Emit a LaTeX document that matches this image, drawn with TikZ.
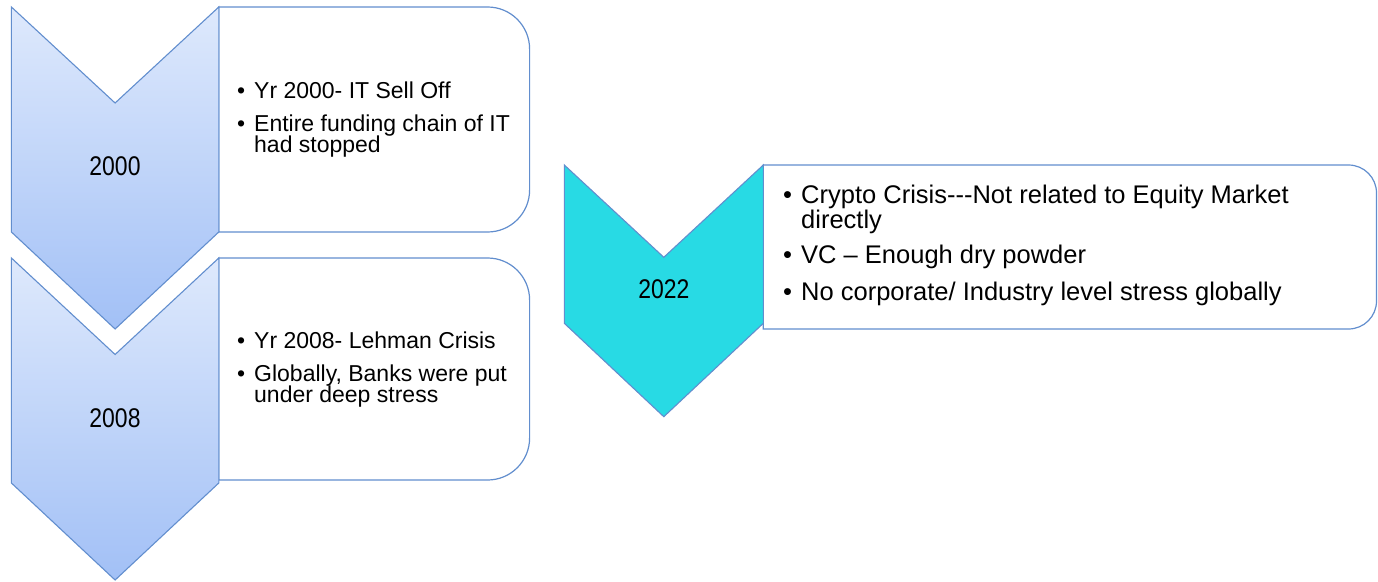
\documentclass[tikz,border=0pt]{standalone}
\usepackage{fontspec}
\setmainfont{Liberation Sans}
\newfontfamily\yearfont[FakeStretch=0.85]{Liberation Sans}
\definecolor{chevtop}{RGB}{222,233,252}
\definecolor{chevbot}{RGB}{162,192,246}
\definecolor{chevline}{RGB}{98,142,206}
\definecolor{boxline}{RGB}{98,142,206}
\definecolor{chevcyan}{RGB}{40,218,228}
% bullet paragraph: width, font size, baselineskip, bullet indent, text
\newcommand{\bulpara}[5]{\vtop{\hsize=#1\fontsize{#2}{#3}\selectfont\noindent\hangindent=#4\hangafter=1\relax\makebox[#4][l]{\textbullet}#5\par}}
\newcommand{\smallbul}[1]{\bulpara{300pt}{23pt}{21.7pt}{17pt}{#1}}
\newcommand{\bigbul}[1]{\bulpara{580pt}{25.5pt}{23.4pt}{18pt}{#1}}
\begin{document}
\begin{tikzpicture}[x=1pt,y=-1pt,
  chev/.style={draw=chevline, line width=1.1pt, line join=miter},
  bluechev/.style={chev, top color=chevtop, bottom color=chevbot},
  cyanchev/.style={chev, fill=chevcyan},
  infobox/.style={draw=boxline, line width=1.2pt, fill=white},
  year/.style={inner sep=0pt, font=\yearfont\fontsize{27pt}{30pt}\selectfont},
  bul/.style={inner sep=0pt, anchor=base west}]
\useasboundingbox (0,0) rectangle (1378,581);

% ---- info boxes (square left corners, rounded right corners)
\draw[infobox] (218.8,7) -- (487.6,7) arc[start angle=-90,end angle=0,radius=42]
  -- (529.6,190) arc[start angle=0,end angle=90,radius=42] -- (218.8,232) -- cycle;
\draw[infobox] (218.8,258) -- (487.6,258) arc[start angle=-90,end angle=0,radius=42]
  -- (529.6,438) arc[start angle=0,end angle=90,radius=42] -- (218.8,480) -- cycle;
\draw[infobox] (763.3,165) -- (1348.5,165) arc[start angle=-90,end angle=0,radius=28]
  -- (1376.5,301) arc[start angle=0,end angle=90,radius=28] -- (763.3,329) -- cycle;

% ---- chevrons
\path[bluechev] (11.4,7) -- (115.1,103) -- (218.8,7) -- (218.8,232) -- (115.1,329) -- (11.4,232) -- cycle;
\path[bluechev] (11.4,258) -- (115.1,354.5) -- (218.8,258) -- (218.8,483) -- (115.1,580) -- (11.4,483) -- cycle;
\path[cyanchev] (564.3,165) -- (663.8,257.3) -- (763.3,165) -- (763.3,323.3) -- (663.8,416.7) -- (564.3,323.3) -- cycle;

% ---- year labels
\node[year] (y2000) at (115,166.5) {2000};
\node[year] (y2008) at (115,418) {2008};
\node[year] (y2022) at (663.8,289.3) {2022};

% ---- bullet texts
\node[bul] (t1a) at (237,98.3) {\smallbul{Yr 2000- IT Sell Off}};
\node[bul] (t1b) at (237,131) {\smallbul{Entire funding chain of IT\hfil\break had stopped}};
\node[bul] (t2a) at (237,348.3) {\smallbul{Yr 2008- Lehman Crisis}};
\node[bul] (t2b) at (237,381) {\smallbul{Globally, Banks were put\hfil\break under deep stress}};
\node[bul] (t3a) at (783,203.3) {\bigbul{Crypto Crisis-\kern0pt-\kern0pt-Not related to Equity Market\hfil\break directly}};
\node[bul] (t3b) at (783,263.3) {\bigbul{VC – Enough dry powder}};
\node[bul] (t3c) at (783,300) {\bigbul{No corporate/ Industry level stress globally}};
\end{tikzpicture}
\end{document}
